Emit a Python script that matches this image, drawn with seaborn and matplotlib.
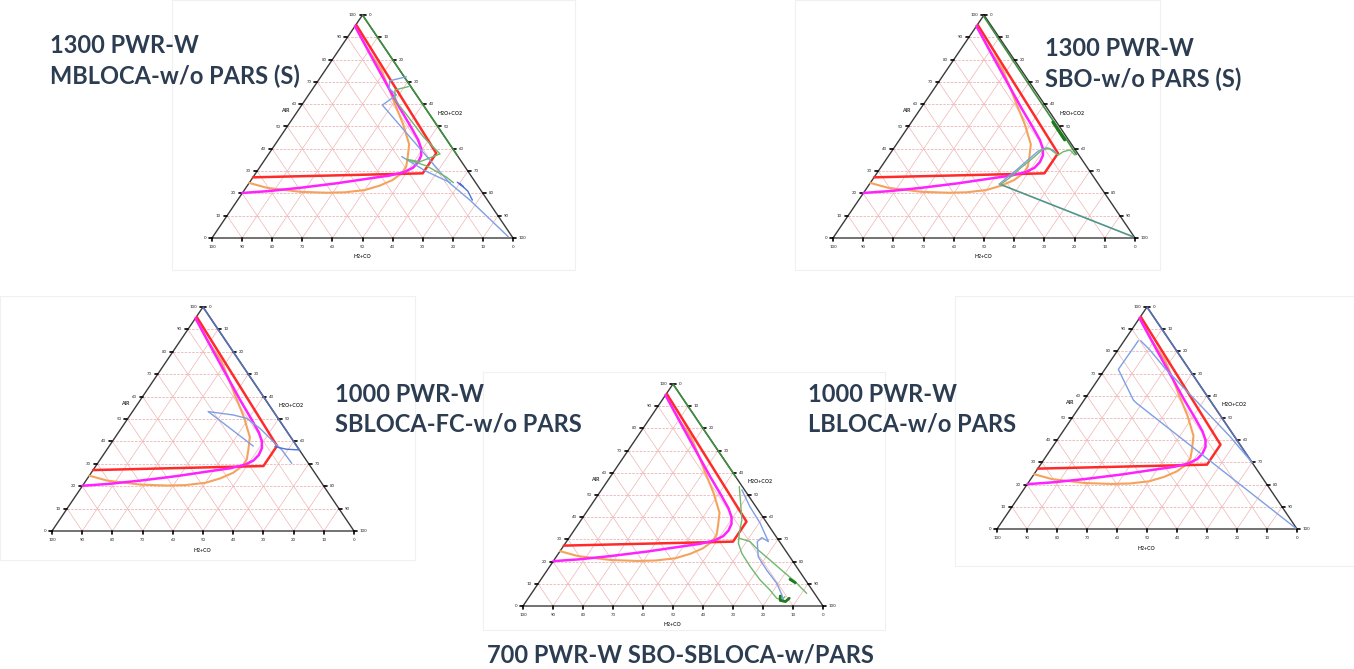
import numpy as np
import matplotlib
matplotlib.use("Agg")
import matplotlib.pyplot as plt
import seaborn as sns
from matplotlib.patches import Rectangle

W, H = 1354, 669
H3 = np.sqrt(3) / 2

# all points are (AIR %, H2O+CO2 %) ; H2+CO = 100 - the two
# limit curves, same in every panel
red_air = [95.5, 38, 29, 27.2]
red_steam = [0.2, 55.5, 55.5, 0]
mag_air = [95, 80, 69, 58, 50, 44, 40, 37, 34, 31.5, 29.5, 28, 26.5, 24.5, 22.5, 21, 20.2]
mag_steam = [0, 13.5, 23.5, 33.5, 41, 46.5, 49.5, 51, 51.5, 51, 49, 45, 38, 29, 18, 8, 0]
org_air = [95, 85, 76, 68, 61, 51, 42, 36, 32, 29, 26, 23.5, 21.5, 20.5, 20.3, 20.7, 22.5, 24.7]
org_steam = [0, 9, 18, 24.5, 30, 38, 44.5, 47, 48.5, 48.5, 47, 44, 40, 34, 28, 19, 7, 0]

# 1300 PWR-W MBLOCA
p1_edge_air, p1_edge_steam = [100, 37], [0, 63]
p1_blue_air = [72.3, 70.5, 67.1, 64.1, 59.6, 24.5, 17.0, 0.6]
p1_blue_steam = [28.4, 23.8, 25.3, 29.2, 26.8, 66.8, 77.2, 98.1]
p1_blue2_air = [36.5, 30, 24.8]
p1_blue2_steam = [44.8, 56, 66.8]
p1_loop_air = [25, 23, 24.5, 21, 17]
p1_loop_steam = [69, 72, 70, 74.5, 78]
p1_green_air = [67.9, 66.4, 61.9, 55.2, 45.4, 40.7, 37.7, 34.2, 35.3, 32.3, 27.2, 24.8]
p1_green_steam = [31.3, 27.6, 29.8, 37.1, 47.5, 53.2, 56.9, 52.0, 47.0, 55.2, 64.4, 67.8]

# 1300 PWR-W SBO
p2_teal_air, p2_teal_steam = [0.6, 24.2], [99.0, 43.0]
p2_blue_air = [24.2, 27, 30.5, 35, 39, 40.5, 39.5, 38]
p2_blue_steam = [43.0, 44.0, 45.5, 47, 48.5, 50.5, 53.0, 55.0]
p2_green_air = [24.0, 27.5, 31.5, 36, 39.5, 40.2, 38.7, 37.2, 38.7, 39.5, 37.2]
p2_green_steam = [43.5, 45.2, 46.5, 48.3, 49.5, 51.5, 53.6, 56.0, 56.9, 58.7, 61.5]
p2_edge_air = [99.5, 70, 55, 51.4, 47, 43.9, 40, 37.5]
p2_edge_steam = [0.1, 29.3, 44.2, 47.8, 52.2, 55.5, 59.3, 61.8]
p2_dark_air, p2_dark_steam = [52, 44], [46.8, 54.7]

# 1000 PWR-W SBLOCA-FC
p3_edge_air, p3_edge_steam = [100, 36], [0, 64]
p3_blueA_air = [53.3, 51.8, 50.3, 45.8, 39.2, 36.2, 30.2]
p3_blueA_steam = [25.1, 34.1, 39.3, 46.0, 54.2, 58.0, 64.3]
p3_blueB_air, p3_blueB_steam = [53.3, 37.9], [25.1, 47.7]
p3_blueC_air, p3_blueC_steam = [37.6, 36.5, 36.2], [55.0, 59.5, 63.8]

# 700 PWR-W SBO-SBLOCA
p4_edge_air, p4_edge_steam = [100, 58], [0, 42]
p4_blue_air = [52.3, 44.7, 37.3, 29.0, 30.8, 29.0, 22.2, 16.2, 10.2, 5.0, 2.7]
p4_blue_steam = [46.8, 53.3, 60.4, 67.3, 64.2, 63.6, 67.3, 73.1, 79.5, 83.8, 85.4]
p4_greenA_air = [53.8, 46.3, 38.7, 32.8, 28.2, 23.7, 17.7, 11.7, 7.2, 3.5, 2.7, 4.2]
p4_greenA_steam = [45.2, 49.4, 53.6, 55.7, 57.7, 61.1, 66.9, 73.2, 78.7, 82.8, 84.9, 85.2]
p4_greenB_air = [30.5, 29.0, 25.2, 20.7, 15.5, 11.0, 5.7]
p4_greenB_steam = [56.9, 61.2, 65.8, 72.0, 79.0, 85.2, 91.7]
p4_dark_air, p4_dark_steam = [4.5, 2.5, 2.0, 3.5], [83.5, 84.5, 86.5, 87.0]
p4_arrow_air, p4_arrow_steam = [12, 10.5], [83, 85.5]

# 1000 PWR-W LBLOCA
p5_edge_air, p5_edge_steam = [100, 30], [0, 70]
p5_low_air = [84.8, 71.9, 58.1, 56.6, 0.3]
p5_low_steam = [4.7, 4.5, 16.4, 18.3, 99.5]
p5_up_air = [84.8, 80.6, 72.4, 57.4, 41.6, 29.9]
p5_up_steam = [5.5, 10.7, 19.8, 37.9, 56.9, 70.1]

titles = ["1300 PWR-W\nMBLOCA-w/o PARS (S)", "1300 PWR-W\nSBO-w/o PARS (S)",
          "1000 PWR-W\nSBLOCA-FC-w/o PARS", "1000 PWR-W\nLBLOCA-w/o PARS",
          "700 PWR-W SBO-SBLOCA-w/PARS"]

BLUE = '#7f9fe4'
GREEN = '#6fb86f'
DGREEN = '#1d7a1d'
TEAL = '#4f9488'
EBLUE = '#5a6fae'
EGREEN = '#3f8f3f'

sns.set_style("white")
plt.rcParams['font.family'] = ['Lato', 'DejaVu Sans']

fig = plt.figure(figsize=(W / 100, H / 100), dpi=100)


def tern(air, steam):
    a = np.asarray(air, float) / 100
    c = np.asarray(steam, float) / 100
    return c + a / 2, a * H3


def line(ax, air, steam, color, lw=1.0):
    x, y = tern(air, steam)
    sns.lineplot(x=x, y=y, sort=False, estimator=None, ax=ax, color=color,
                 lw=lw, legend=False)


def make_ax(L, R, T, m=45):
    lx, ly = L
    rx, _ = R
    _, ty = T
    sx = rx - lx
    sy = (ly - ty) / H3
    ax = fig.add_axes([(lx - m) / W, 1 - (ly + m) / H,
                       (rx - lx + 2 * m) / W, (ly - ty + 2 * m) / H])
    ax.set_xlim(-m / sx, 1 + m / sx)
    ax.set_ylim(-m / sy, H3 + m / sy)
    ax.axis('off')
    ax.patch.set_alpha(0)
    return ax, sx, sy


def frame(ax, sx, sy):
    grid = '#f0b4b4'
    for i in range(1, 10):
        t = i / 10
        ax.plot([t / 2, 1 - t / 2], [t * H3, t * H3], color=grid, lw=0.6, ls=(0, (3, 1.5)))
        ax.plot([t, t + (1 - t) / 2], [0, (1 - t) * H3], color=grid, lw=0.5)
        ax.plot([1 - t, (1 - t) / 2], [0, (1 - t) * H3], color=grid, lw=0.5)
    ax.plot([0, 0.5, 1, 0], [0, H3, 0, 0], color='#3a3a3a', lw=1.0)
    fs = 3.2
    for i in range(11):
        t = i / 10
        # left (AIR)
        ax.plot([t / 2, t / 2 - 3 / sx], [t * H3, t * H3], color='k', lw=1.2)
        ax.text(t / 2 - 6 / sx, t * H3, str(i * 10), fontsize=fs, ha='right', va='center')
        # bottom (H2+CO)
        ax.plot([t, t], [0, -3 / sy], color='k', lw=1.2)
        ax.text(t, -9 / sy, str(100 - i * 10), fontsize=fs, ha='center', va='center')
        # right (H2O+CO2)
        ax.plot([1 - t / 2, 1 - t / 2 + 3 / sx], [t * H3, t * H3], color='k', lw=1.2)
        ax.text(1 - t / 2 + 6 / sx, t * H3, str(100 - i * 10), fontsize=fs, ha='left', va='center')
    ax.text(0.57 / 2 - 13 / sx, 0.57 * H3, 'AIR', fontsize=3.8, ha='center', va='center',
            weight='bold', color='#333')
    ax.text(1 - 0.56 / 2 + 9 / sx, 0.56 * H3, 'H2O+CO2', fontsize=3.8, ha='left', va='center',
            weight='bold', color='#333')
    ax.text(0.5, -19 / sy, 'H2+CO', fontsize=3.8, ha='center', va='center',
            weight='bold', color='#333')


def limits(ax):
    line(ax, org_air, org_steam, '#f5a35c', 1.5)
    line(ax, red_air, red_steam, '#ff2a2a', 1.8)
    line(ax, mag_air, mag_steam, '#ff22ff', 1.8)


# faint screenshot frames
for (x0, y0, x1, y1) in [(172, 0, 575, 270), (795, 0, 1160, 270), (0, 296, 415, 560),
                         (955, 296, 1354, 566), (483, 372, 885, 630)]:
    fig.patches.append(Rectangle((x0 / W, 1 - y1 / H), (x1 - x0) / W, (y1 - y0) / H,
                                 transform=fig.transFigure, fill=False,
                                 ec='#f0f0f0', lw=0.8, zorder=-5))

# panel 1
ax, sx, sy = make_ax((212, 238), (513, 238), (363, 15))
frame(ax, sx, sy)
line(ax, p1_edge_air, p1_edge_steam, EGREEN, 1.2)
limits(ax)
line(ax, p1_blue_air, p1_blue_steam, BLUE, 1.0)
line(ax, p1_blue2_air, p1_blue2_steam, BLUE, 1.0)
line(ax, p1_green_air, p1_green_steam, GREEN, 1.0)
line(ax, p1_loop_air, p1_loop_steam, '#4d72d6', 1.0)

# panel 2
ax, sx, sy = make_ax((833, 238), (1135, 238), (983, 15))
frame(ax, sx, sy)
limits(ax)
line(ax, p2_edge_air, p2_edge_steam, EGREEN, 1.2)
line(ax, p2_dark_air, p2_dark_steam, DGREEN, 2.2)
line(ax, p2_teal_air, p2_teal_steam, TEAL, 1.2)
line(ax, p2_blue_air, p2_blue_steam, BLUE, 1.0)
line(ax, p2_green_air, p2_green_steam, GREEN, 1.0)

# panel 3
ax, sx, sy = make_ax((52, 531), (354, 531), (202, 307))
frame(ax, sx, sy)
line(ax, p3_edge_air, p3_edge_steam, EBLUE, 1.2)
limits(ax)
line(ax, p3_blueA_air, p3_blueA_steam, BLUE, 1.0)
line(ax, p3_blueB_air, p3_blueB_steam, BLUE, 1.0)
line(ax, p3_blueC_air, p3_blueC_steam, '#4d72d6', 1.0)

# panel 4
ax, sx, sy = make_ax((523, 606), (823, 606), (672, 384))
frame(ax, sx, sy)
line(ax, p4_edge_air, p4_edge_steam, EGREEN, 1.2)
limits(ax)
line(ax, p4_greenA_air, p4_greenA_steam, GREEN, 1.0)
line(ax, p4_greenB_air, p4_greenB_steam, GREEN, 1.0)
line(ax, p4_blue_air, p4_blue_steam, BLUE, 1.0)
line(ax, p4_dark_air, p4_dark_steam, DGREEN, 2.0)
line(ax, p4_arrow_air, p4_arrow_steam, DGREEN, 2.0)

# panel 5
ax, sx, sy = make_ax((997, 529), (1297, 529), (1147, 307))
frame(ax, sx, sy)
line(ax, p5_edge_air, p5_edge_steam, EBLUE, 1.2)
limits(ax)
line(ax, p5_low_air, p5_low_steam, BLUE, 1.0)
line(ax, p5_up_air, p5_up_steam, BLUE, 1.0)

# captions
tcol = '#2c3d52'
for txt, (x, y), ha in zip(titles, [(50, 61), (1045, 64), (335, 409), (808, 409), (680, 655)],
                           ['left', 'left', 'left', 'left', 'center']):
    fig.text(x / W, 1 - y / H, txt, fontsize=17, weight='bold', color=tcol,
             ha=ha, va='center', linespacing=1.35)

fig.savefig('out.png', dpi=100)
